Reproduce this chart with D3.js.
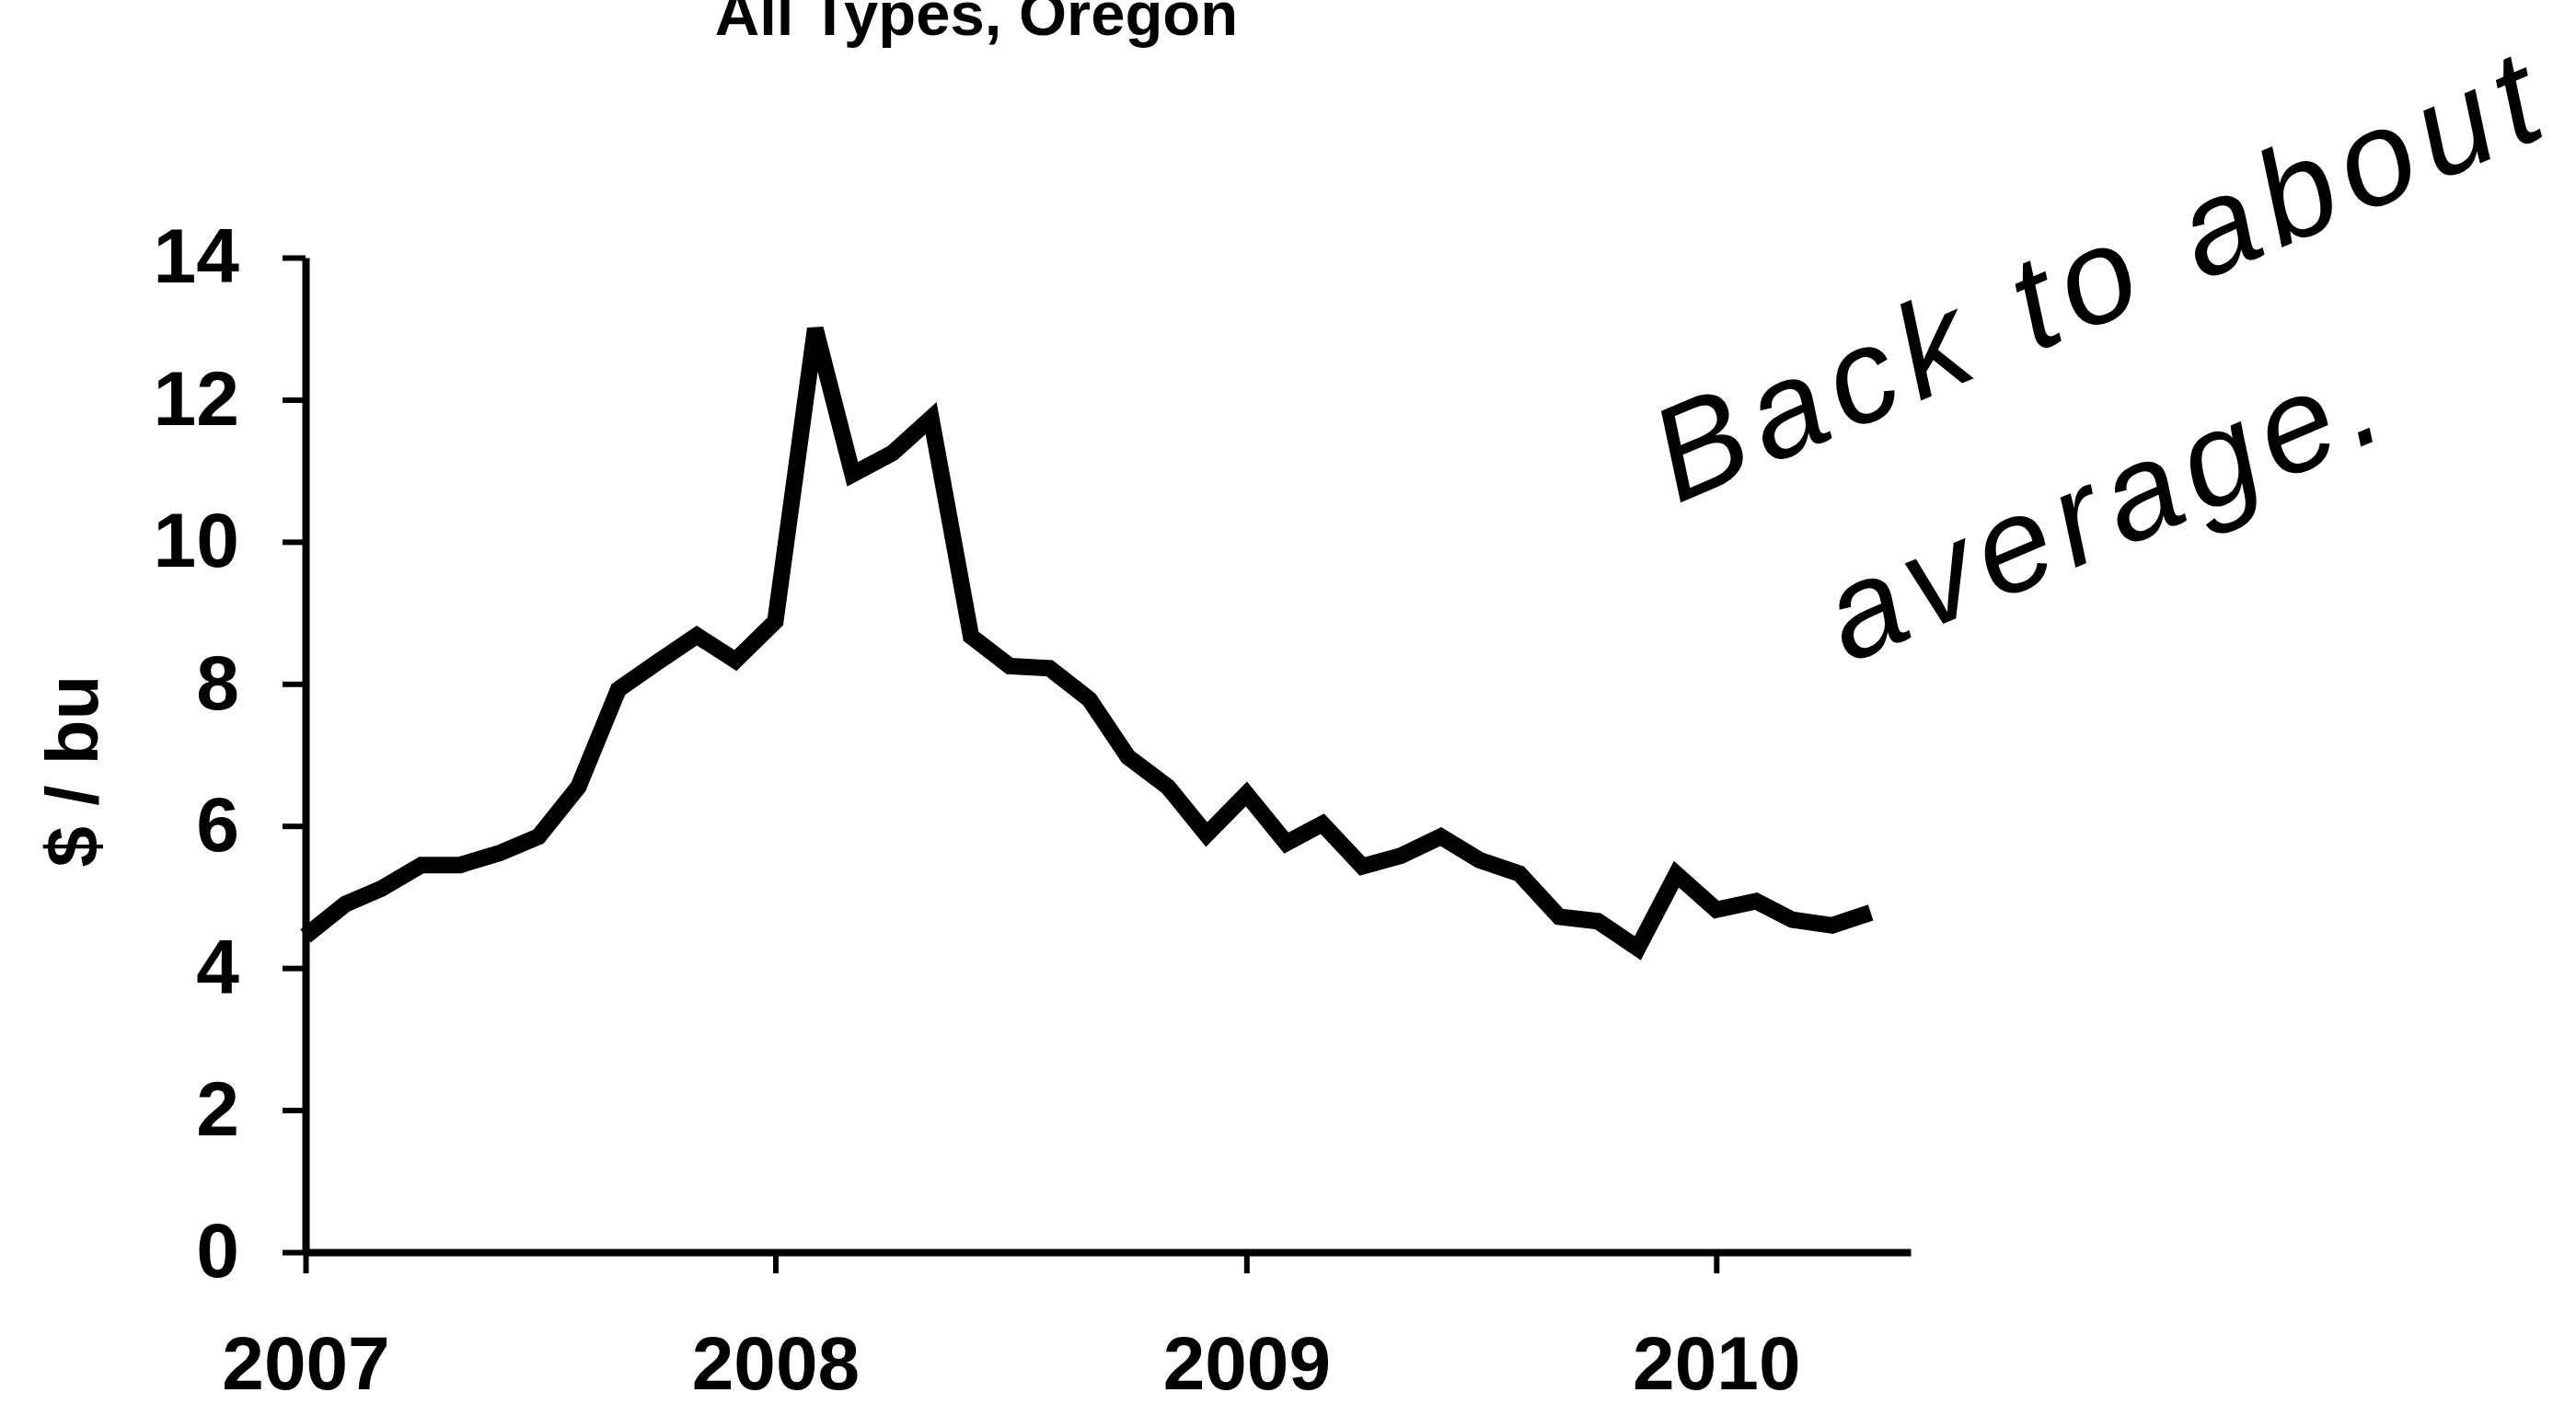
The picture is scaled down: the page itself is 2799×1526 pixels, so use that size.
<!DOCTYPE html>
<html>
<head>
<meta charset="utf-8">
<script src="https://d3js.org/d3.v7.min.js"></script>
<style>
  body { margin: 0; background: white; }
  text { font-family: "Liberation Sans", Arial, sans-serif; }
</style>
</head>
<body>
<div id="chart"></div>
<script>
// Monthly price, all types, Oregon ($ / bu), Jan 2007 - May 2010
var months = d3.timeMonth.range(new Date(2007, 0, 1), new Date(2010, 5, 1));
var prices = [4.45, 4.9, 5.12, 5.45, 5.45, 5.62, 5.85, 6.55, 7.92, 8.3, 8.68, 8.33,
              8.88, 13.0, 10.95, 11.25, 11.74, 8.67, 8.25, 8.22, 7.78, 6.97, 6.55, 5.88,
              6.45, 5.76, 6.03, 5.43, 5.58, 5.85, 5.52, 5.33, 4.72, 4.66, 4.28, 5.32,
              4.82, 4.94, 4.68, 4.6, 4.78];
var yTicks = [0, 2, 4, 6, 8, 10, 12, 14];
var yearTicks = [2007, 2008, 2009, 2010];
var title = "All Types, Oregon";
var yLabel = "$ / bu";
var note = ["Back to about", "average."];

var svgWidth = 2799;
var svgHeight = 1526;

var svg = d3.select("#chart")
  .append("svg")
    .attr("width", svgWidth)
    .attr("height", svgHeight)
    .style("background-color", "white");

// scales
var x = d3.scaleTime()
  .domain([new Date(2007, 0, 1), new Date(2010, 5, 1)])
  .range([332, 2076]);

var y = d3.scaleLinear()
  .domain([0, 14])
  .range([1361, 280]);

// y axis
var yAxis = svg.append("g")
  .attr("transform", "translate(332,0)")
  .call(d3.axisLeft(y).tickValues(yTicks).tickSize(25).tickSizeOuter(0).tickPadding(47));

yAxis.select(".domain").attr("stroke-width", 8);
yAxis.selectAll(".tick line").attr("stroke-width", 6);
yAxis.selectAll(".tick text")
  .attr("font-size", 84)
  .attr("font-weight", "bold")
  .attr("font-family", "Liberation Sans, Arial, sans-serif");

// x axis
var xAxis = svg.append("g")
  .attr("transform", "translate(0,1361)")
  .call(d3.axisBottom(x)
    .tickValues(yearTicks.map(function(yr) { return new Date(yr, 0, 1); }))
    .tickFormat(d3.timeFormat("%Y"))
    .tickSize(23).tickSizeOuter(0).tickPadding(68));

xAxis.select(".domain").attr("stroke-width", 8);
xAxis.selectAll(".tick line").attr("stroke-width", 6);
xAxis.selectAll(".tick text")
  .attr("font-size", 82)
  .attr("font-weight", "bold")
  .attr("font-family", "Liberation Sans, Arial, sans-serif");

// the price line
var line = d3.line()
  .x(function(d, i) { return x(months[i]); })
  .y(function(d) { return y(d); });

svg.append("path")
  .datum(prices)
  .attr("d", line)
  .attr("fill", "none")
  .attr("stroke", "black")
  .attr("stroke-width", 18)
  .attr("stroke-linejoin", "miter")
  .attr("stroke-miterlimit", 3);

// title (cut at the top edge, as in the scan)
svg.append("text")
  .attr("x", 1061)
  .attr("y", 38)
  .attr("text-anchor", "middle")
  .attr("font-size", 67)
  .attr("font-weight", "bold")
  .text(title);

// y label
svg.append("text")
  .attr("transform", "translate(106,838) rotate(-90)")
  .attr("text-anchor", "middle")
  .attr("font-size", 80)
  .attr("font-weight", "bold")
  .text(yLabel);

// handwritten note
svg.append("text")
  .attr("transform", "translate(1822,548) rotate(-23)")
  .attr("font-family", "Liberation Serif, serif")
  .attr("font-style", "italic")
  .attr("font-size", 145)
  .attr("textLength", 1030)
  .attr("lengthAdjust", "spacing")
  .text(note[0]);

svg.append("text")
  .attr("transform", "translate(2008,722) rotate(-23)")
  .attr("font-family", "Liberation Serif, serif")
  .attr("font-style", "italic")
  .attr("font-size", 145)
  .attr("textLength", 640)
  .attr("lengthAdjust", "spacing")
  .text(note[1]);
</script>
</body>
</html>
